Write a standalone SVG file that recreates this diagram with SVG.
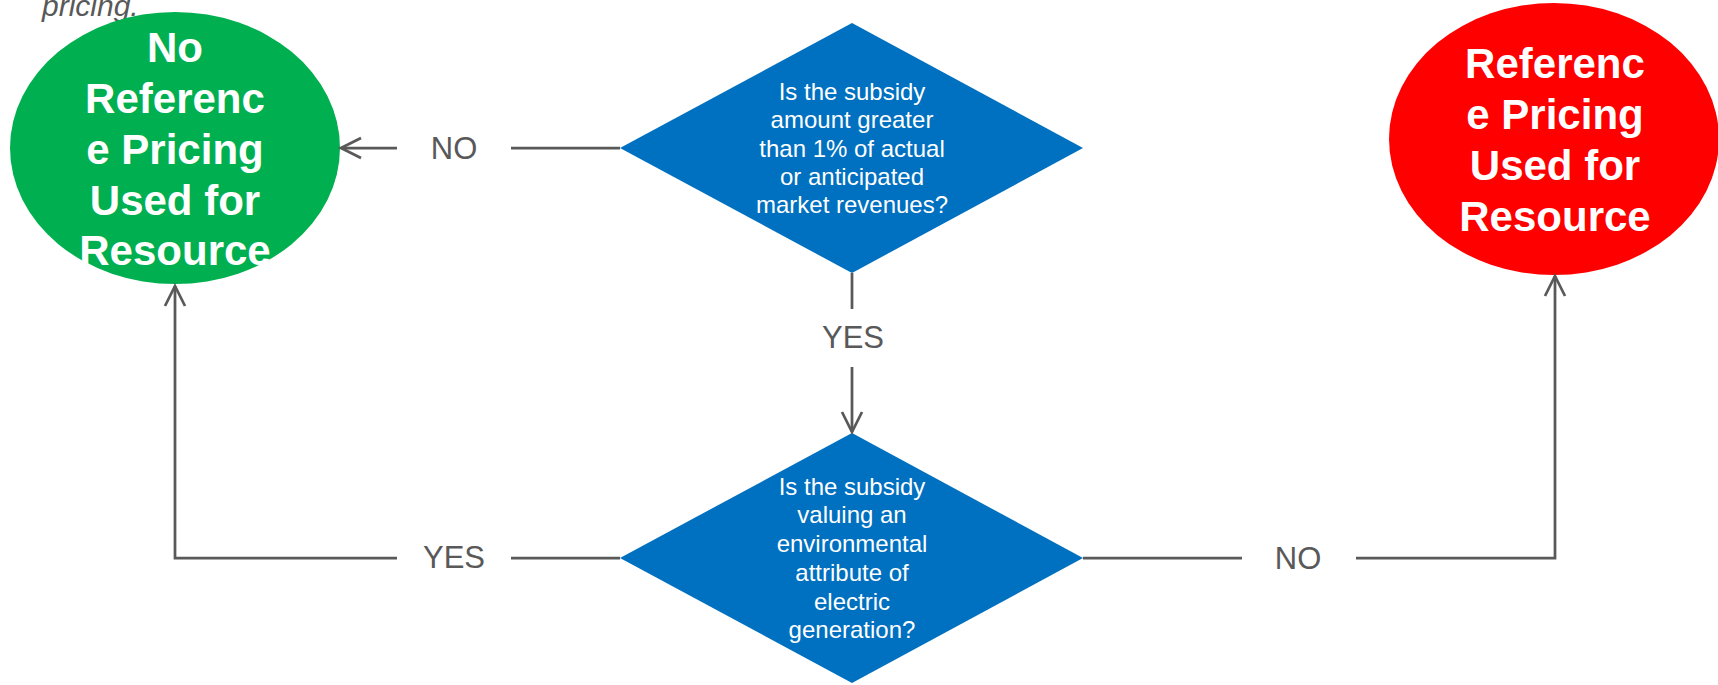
<svg xmlns="http://www.w3.org/2000/svg" width="1718" height="685" viewBox="0 0 1718 685">
<defs>
<marker id="arr" markerUnits="userSpaceOnUse" markerWidth="30" markerHeight="30" viewBox="-25 -15 30 30" refX="0" refY="0" orient="auto">
<path d="M -20 -10 L 0 0 L -20 10" fill="none" stroke="#595959" stroke-width="2.75"/>
</marker>
</defs>
<style>
.conn{fill:none;stroke:#595959;stroke-width:2.75}
.lbl{font-family:"Liberation Sans",Arial,sans-serif;font-size:31px;fill:#595959;text-anchor:middle}
.q{font-family:"Liberation Sans",Arial,sans-serif;font-size:24px;fill:#FFFFFF;text-anchor:middle}
.big{font-family:"Liberation Sans",Arial,sans-serif;font-size:42px;font-weight:bold;fill:#FFFFFF;text-anchor:middle}
.note{font-family:"Liberation Sans",Arial,sans-serif;font-size:30px;font-style:italic;fill:#595959}
</style>
<rect width="1718" height="685" fill="#FFFFFF"/>
<text class="note" x="42" y="16">pricing.</text>
<g id="no-ref">
<ellipse cx="175" cy="148" rx="165" ry="136" fill="#00B050"/>
<text class="big" x="175"><tspan x="175" y="62">No</tspan><tspan x="175" y="113">Referenc</tspan><tspan x="175" y="164">e Pricing</tspan><tspan x="175" y="215">Used for</tspan><tspan x="175" y="265">Resource</tspan></text>
</g>
<g id="ref">
<ellipse cx="1554" cy="139" rx="165" ry="136" fill="#FF0000"/>
<text class="big"><tspan x="1555" y="78">Referenc</tspan><tspan x="1555" y="129">e Pricing</tspan><tspan x="1555" y="180">Used for</tspan><tspan x="1555" y="231">Resource</tspan></text>
</g>
<g id="q1">
<polygon points="852,23 1083,148 852,273 620,148" fill="#0070C0"/>
<text class="q"><tspan x="852" y="100">Is the subsidy</tspan><tspan x="852" y="128">amount greater</tspan><tspan x="852" y="157">than 1% of actual</tspan><tspan x="852" y="185">or anticipated</tspan><tspan x="852" y="213">market revenues?</tspan></text>
</g>
<g id="q2">
<polygon points="852,433 1083,558 852,683 620,558" fill="#0070C0"/>
<text class="q"><tspan x="852" y="495">Is the subsidy</tspan><tspan x="852" y="523">valuing an</tspan><tspan x="852" y="552">environmental</tspan><tspan x="852" y="581">attribute of</tspan><tspan x="852" y="610">electric</tspan><tspan x="852" y="638">generation?</tspan></text>
</g>
<g id="connectors">
<path class="conn" d="M 620 148 L 511 148"/>
<path class="conn" d="M 397 148 L 341 148" marker-end="url(#arr)"/>
<text class="lbl" x="454" y="159">NO</text>
<path class="conn" d="M 852 273 L 852 309"/>
<path class="conn" d="M 852 367 L 852 432" marker-end="url(#arr)"/>
<text class="lbl" x="853" y="348">YES</text>
<path class="conn" d="M 620 558 L 511 558"/>
<path class="conn" d="M 397 558 L 175 558 L 175 286" marker-end="url(#arr)"/>
<text class="lbl" x="454" y="568">YES</text>
<path class="conn" d="M 1083 558 L 1242 558"/>
<path class="conn" d="M 1356 558 L 1555 558 L 1555 276" marker-end="url(#arr)"/>
<text class="lbl" x="1298" y="569">NO</text>
</g>
</svg>
